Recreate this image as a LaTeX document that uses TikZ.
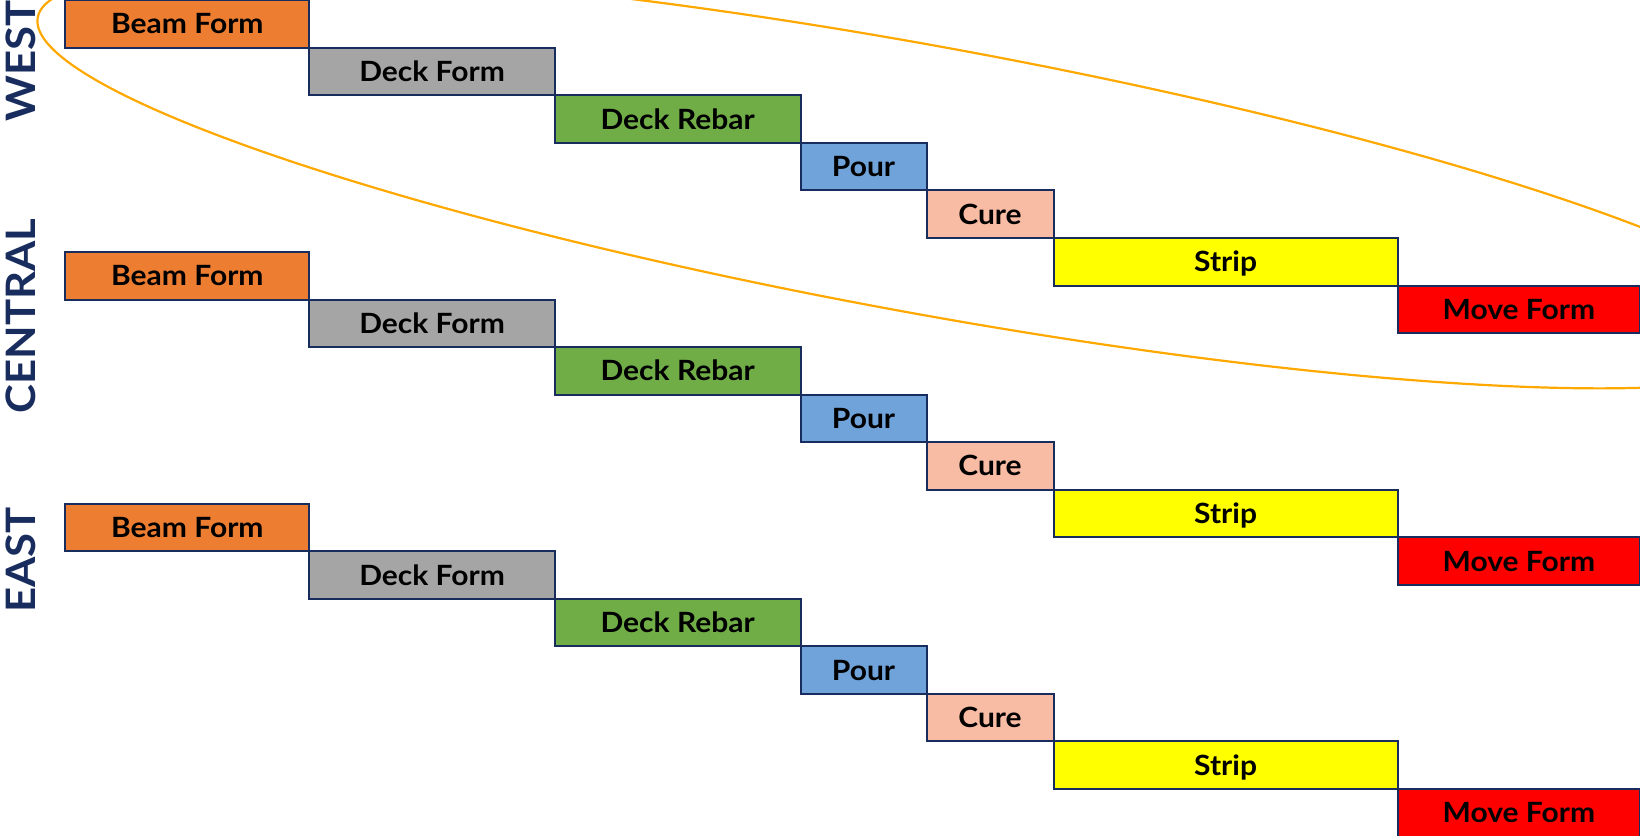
\documentclass[tikz,border=0pt]{standalone}
\usepackage{fontspec}
\setmainfont{Lato}[FakeStretch=1.075]
\definecolor{navy}{RGB}{24,44,94}
\definecolor{beam}{RGB}{237,125,49}
\definecolor{deckform}{RGB}{165,165,165}
\definecolor{rebar}{RGB}{112,173,71}
\definecolor{pour}{RGB}{111,163,218}
\definecolor{cure}{RGB}{248,188,164}
\definecolor{strip}{RGB}{255,255,0}
\definecolor{moveform}{RGB}{255,0,0}
\definecolor{loop}{RGB}{255,168,0}
\tikzset{
  task/.style={draw=navy, line width=1pt, inner sep=0pt, anchor=north west,
    minimum height=23.78pt, text height=10pt, text depth=0pt,
    font=\fontsize{13.95}{16}\selectfont\bfseries, text=black},
  zone/.style={rotate=90, text=navy, inner sep=0pt,
    font=\fontsize{20.3}{24}\selectfont\bfseries, text height=14.55pt, text depth=0pt},
  oval/.style={draw=loop, line width=1.1pt}
}
\begin{document}
\begin{tikzpicture}[x=0.5pt, y=-0.5pt]
  \useasboundingbox (0,0) rectangle (1640,836);
  \clip (0,0) rectangle (1640,836);
  % three staggered schedules, one per zone
  \foreach \g/\T in {w/-0.8, c/251, e/502.7} {
    \foreach \i/\xa/\xb/\col/\lab in {
        0/64.3/308.3/beam/Beam Form,
        1/308.3/553.8/deckform/Deck Form,
        2/553.8/799.5/rebar/Deck Rebar,
        3/799.5/925.5/pour/Pour,
        4/925.5/1052.5/cure/Cure,
        5/1052.5/1396.7/strip/Strip,
        6/1396.7/1639/moveform/Move Form} {
      \pgfmathsetmacro\yt{\T+\i*47.55}
      \pgfmathsetmacro\boxw{(\xb-\xa)*0.5}
      \node[task, fill=\col, minimum width=\boxw pt] (\g\i) at (\xa,\yt) {\lab};
    }
  }
  % zone labels
  \node[zone] (west) at (20.5,61) {WEST};
  \node[zone] (central) at (20.5,316) {CENTRAL};
  \node[zone] (east) at (20.5,560) {EAST};
  % loop around the first cycle
  \draw[oval, rotate around={-10.36:(925,179.6)}] (925,179.6) ellipse [x radius=451pt, y radius=66.8pt];
\end{tikzpicture}
\end{document}
